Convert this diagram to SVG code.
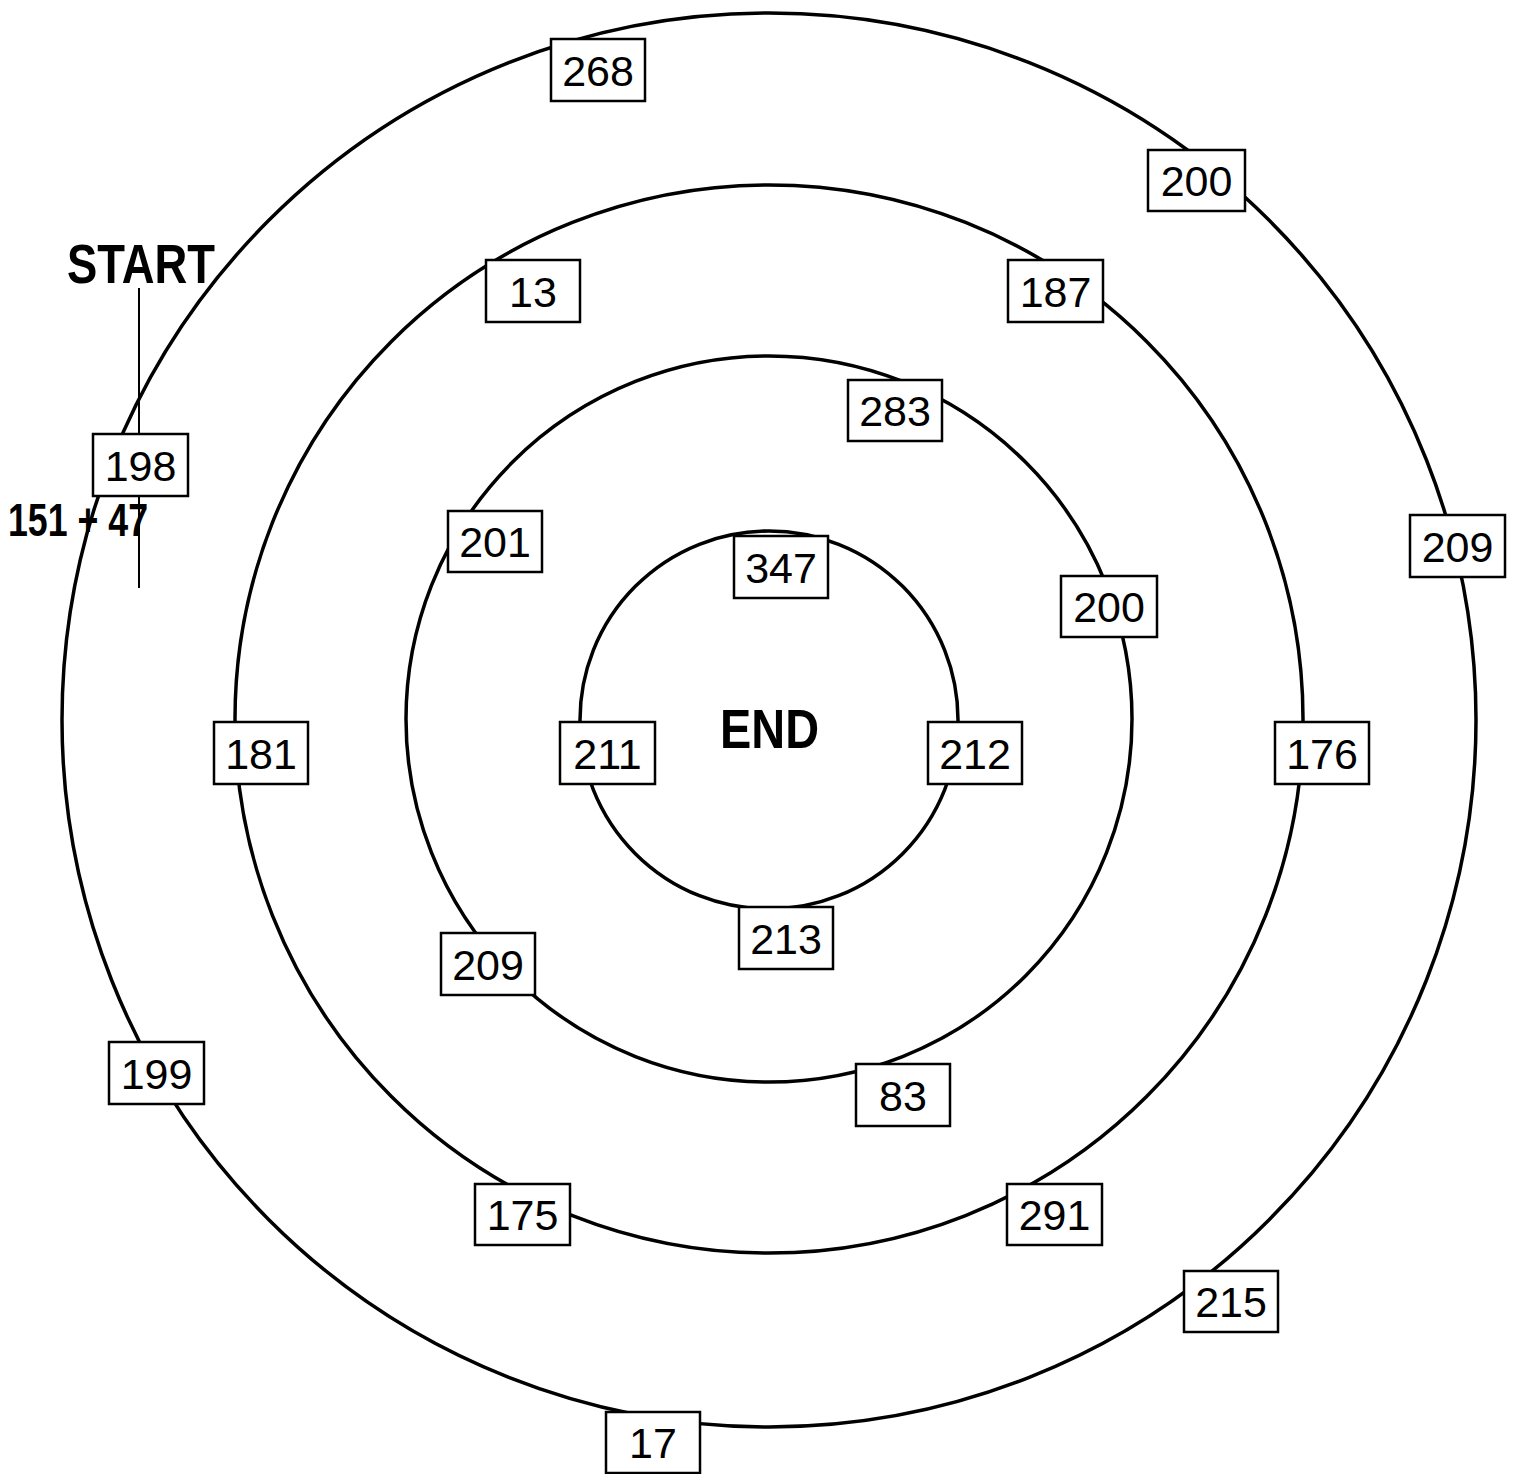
<svg xmlns="http://www.w3.org/2000/svg" width="1516" height="1474" viewBox="0 0 1516 1474">
<style>
.ring{fill:none;stroke:#000;stroke-width:3.5}
.box rect{fill:#fff;stroke:#000;stroke-width:2.5}
.box text{font-family:"Liberation Sans",Arial,sans-serif;font-size:43px;text-anchor:middle;fill:#000}
.lbl{font-family:"Liberation Sans",Arial,sans-serif;font-weight:bold;fill:#000}
</style>
<rect width="1516" height="1474" fill="#fff"/>
<g id="rings">
<circle class="ring" cx="769" cy="720" r="707"/>
<circle class="ring" cx="769" cy="719" r="534"/>
<circle class="ring" cx="769" cy="719" r="363"/>
<circle class="ring" cx="769" cy="720" r="189"/>
</g>
<g id="connectors">
<line x1="139" y1="288" x2="139" y2="588" stroke="#000" stroke-width="2"/>
</g>
<text id="start" class="lbl" x="67" y="283" font-size="56" textLength="148" lengthAdjust="spacingAndGlyphs">START</text>
<text id="sum" class="lbl" x="8" y="536" font-size="46" textLength="140" lengthAdjust="spacingAndGlyphs">151 + 47</text>
<text id="end" class="lbl" x="720" y="748" font-size="56" textLength="99" lengthAdjust="spacingAndGlyphs">END</text>
<g id="n268" class="box"><rect x="551" y="39" width="94" height="62"/><text x="598" y="86">268</text></g>
<g id="n200a" class="box"><rect x="1148" y="150" width="97" height="61"/><text x="1196.5" y="196">200</text></g>
<g id="n13" class="box"><rect x="486" y="260" width="94" height="62"/><text x="533" y="307">13</text></g>
<g id="n187" class="box"><rect x="1008" y="260" width="95" height="62"/><text x="1055.5" y="307">187</text></g>
<g id="n198" class="box"><rect x="93" y="434" width="95" height="62"/><text x="140.5" y="481">198</text></g>
<g id="n283" class="box"><rect x="848" y="380" width="94" height="61"/><text x="895" y="426">283</text></g>
<g id="n201" class="box"><rect x="448" y="511" width="94" height="61"/><text x="495" y="557">201</text></g>
<g id="n347" class="box"><rect x="734" y="536" width="94" height="62"/><text x="781" y="583">347</text></g>
<g id="n209a" class="box"><rect x="1410" y="515" width="95" height="62"/><text x="1457.5" y="562">209</text></g>
<g id="n200b" class="box"><rect x="1061" y="576" width="96" height="61"/><text x="1109" y="622">200</text></g>
<g id="n181" class="box"><rect x="214" y="722" width="94" height="62"/><text x="261" y="769">181</text></g>
<g id="n211" class="box"><rect x="560" y="722" width="95" height="62"/><text x="607.5" y="769">211</text></g>
<g id="n212" class="box"><rect x="928" y="722" width="94" height="62"/><text x="975" y="769">212</text></g>
<g id="n176" class="box"><rect x="1275" y="722" width="94" height="62"/><text x="1322" y="769">176</text></g>
<g id="n213" class="box"><rect x="739" y="907" width="94" height="62"/><text x="786" y="954">213</text></g>
<g id="n209b" class="box"><rect x="441" y="933" width="94" height="62"/><text x="488" y="980">209</text></g>
<g id="n199" class="box"><rect x="109" y="1042" width="95" height="62"/><text x="156.5" y="1089">199</text></g>
<g id="n83" class="box"><rect x="856" y="1064" width="94" height="62"/><text x="903" y="1111">83</text></g>
<g id="n175" class="box"><rect x="475" y="1184" width="95" height="61"/><text x="522.5" y="1230">175</text></g>
<g id="n291" class="box"><rect x="1007" y="1184" width="95" height="61"/><text x="1054.5" y="1230">291</text></g>
<g id="n215" class="box"><rect x="1184" y="1271" width="94" height="61"/><text x="1231" y="1317">215</text></g>
<g id="n17" class="box"><rect x="606" y="1412" width="94" height="61"/><text x="653" y="1458">17</text></g>
</svg>
